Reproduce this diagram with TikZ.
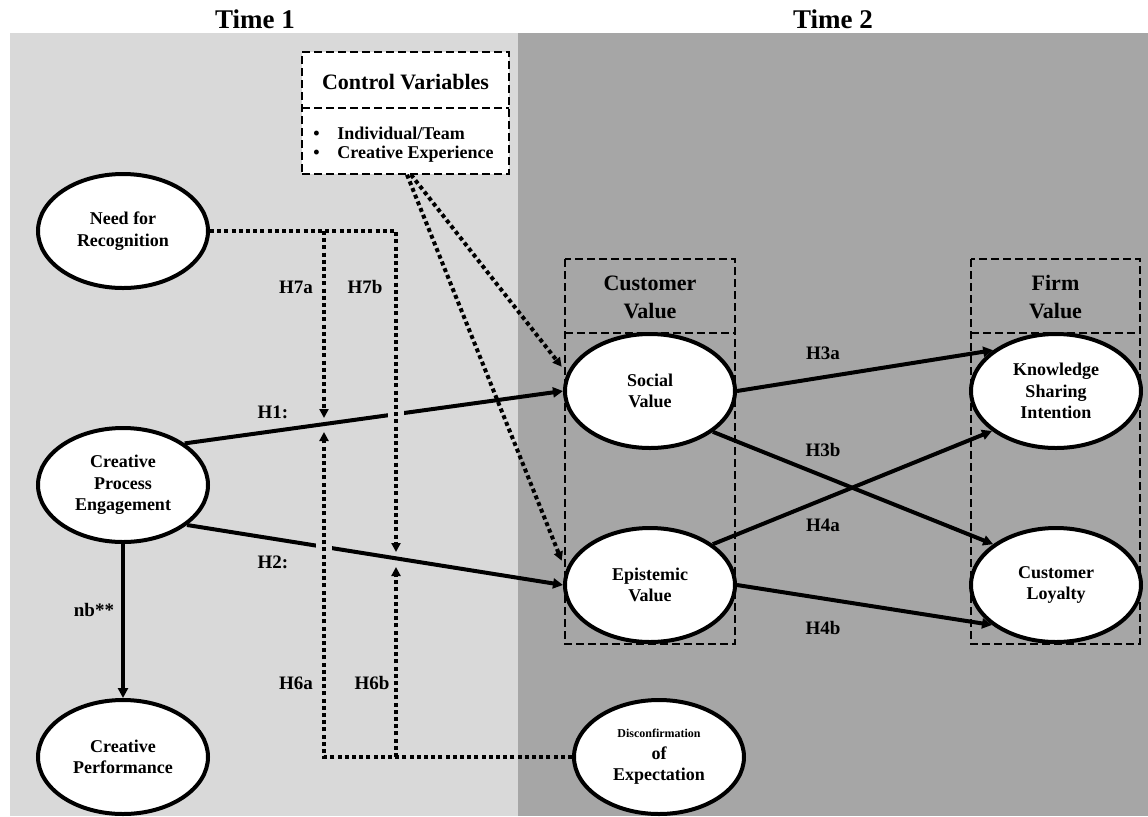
\documentclass[tikz,border=0pt]{standalone}
\usepackage{fontspec}
\setmainfont{Liberation Serif}
\usetikzlibrary{shapes.geometric,arrows.meta}
\definecolor{timeonegray}{RGB}{217,217,217}
\definecolor{timetwogray}{RGB}{166,166,166}

\begin{document}
\begin{tikzpicture}[x=0.5pt,y=-0.5pt,
  construct/.style={ellipse,draw,line width=2pt,fill=white,minimum width=85pt,minimum height=57pt,inner sep=0pt,align=center,font=\fontsize{9}{10.8}\selectfont\bfseries},
  grouphead/.style={align=center,font=\fontsize{11}{14}\selectfont\bfseries},
  hyp/.style={font=\fontsize{9.5}{11}\selectfont\bfseries,inner sep=0pt},
  effect/.style={line width=2pt,-{Triangle[length=5pt,width=5pt]}},
  moderate/.style={line width=2pt,dash pattern=on 2pt off 1.6pt,-{Triangle[length=4.5pt,width=4.5pt]}},
  dashbox/.style={line width=0.7pt,dash pattern=on 4pt off 2pt}]
\useasboundingbox (0,0) rectangle (1148,816);

% Time 1 / Time 2 panels
\fill[timeonegray] (10,33) rectangle (518,816);
\fill[timetwogray] (518,33) rectangle (1148,816);
\node[font=\fontsize{13.5}{16}\selectfont\bfseries] (timeone) at (255,19) {Time 1};
\node[font=\fontsize{13.5}{16}\selectfont\bfseries] (timetwo) at (833,19) {Time 2};

% control variables
\node[dashbox,draw,fill=white,minimum width=103.5pt,minimum height=61pt,inner sep=0pt] (cv) at (405.5,113) {};
\draw[dashbox] (302,108) -- (509,108);
\node[grouphead] (cvhead) at (405.5,82) {Control Variables};
\node[anchor=west,inner sep=0pt,font=\fontsize{9}{10.5}\selectfont\bfseries] (cvitema) at (313,133) {\makebox[12pt][l]{\textbullet}Individual/Team};
\node[anchor=west,inner sep=0pt,font=\fontsize{9}{10.5}\selectfont\bfseries] (cvitemb) at (313,154) {\makebox[12pt][l]{\textbullet}Creative Experience};

% value groups
\draw[dashbox] (565,259) rectangle (735,644);
\draw[dashbox] (565,333) -- (735,333);
\node[grouphead] (custhead) at (650,297) {Customer\\Value};
\draw[dashbox] (971,259) rectangle (1140,644);
\draw[dashbox] (971,333) -- (1140,333);
\node[grouphead] (firmhead) at (1055.5,297) {Firm\\Value};

% constructs
\node[construct] (nr) at (123,231) {Need for\\Recognition};
\node[construct] (cpe) at (123,485) {Creative\\Process\\Engagement};
\node[construct] (cp) at (123,757) {Creative\\Performance};
\node[construct] (sv) at (650,391) {Social\\Value};
\node[construct] (ev) at (650,585) {Epistemic\\Value};
\node[construct] (ksi) at (1056,391) {Knowledge\\Sharing\\Intention};
\node[construct] (cl) at (1056,585) {Customer\\Loyalty};
\node[construct] (doe) at (659,757) {{\fontsize{6}{7}\selectfont Disconfirmation}\\of\\Expectation};

% main effects
\draw[effect] (cpe.34) -- (sv.west);
\draw[effect] (cpe.-32) -- (ev.west);
\draw[effect] (cpe.south) -- (cp.north);
\draw[effect] (sv.east) -- (ksi.147);
\draw[effect] (sv.-33) -- (cl.147);
\draw[effect] (ev.33) -- (ksi.212);
\draw[effect] (ev.east) -- (cl.212);

% line jumps
\coordinate (gapone) at (396,415);
\coordinate (gaptwo) at (324,546);
\fill[timeonegray] ([xshift=-4pt,yshift=-4.5pt]gapone) rectangle ([xshift=4pt,yshift=4.5pt]gapone);
\fill[timeonegray] ([xshift=-4pt,yshift=-4.5pt]gaptwo) rectangle ([xshift=4pt,yshift=4.5pt]gaptwo);

% moderators
\coordinate (h7a) at (324,231);
\coordinate (h7b) at (396,231);
\coordinate (h6a) at (324,757);
\coordinate (h6b) at (396,757);
\coordinate (onh1) at (324,425);
\coordinate (onh2) at (396,558);
\draw[moderate] (nr.east) -- (h7b) -- ([yshift=3pt]onh2);
\draw[moderate] (h7a) -- ([yshift=3.5pt]onh1);
\draw[moderate] (doe.west) -- (h6a) -- ([yshift=-3.5pt]onh1);
\draw[moderate] (h6b) -- ([yshift=-4.5pt]onh2);
\draw[moderate] ([xshift=2.75pt]cv.south) -- ([xshift=-4.5pt]sv.163);
\draw[moderate] ([xshift=0.75pt]cv.south) -- ([xshift=-4.5pt]ev.163);

% hypothesis labels
\node[hyp] (hone) at (273,412) {H1:};
\node[hyp] (htwo) at (273,562) {H2:};
\node[hyp] (hsevena) at (296,287) {H7a};
\node[hyp] (hsevenb) at (365,287) {H7b};
\node[hyp] (hsixa) at (296,683) {H6a};
\node[hyp] (hsixb) at (372,683) {H6b};
\node[hyp] (nb) at (94,610) {nb**};
\node[hyp] (hthreea) at (823,353) {H3a};
\node[hyp] (hthreeb) at (823,450) {H3b};
\node[hyp] (hfoura) at (823,525) {H4a};
\node[hyp] (hfourb) at (823,628) {H4b};
\end{tikzpicture}
\end{document}
